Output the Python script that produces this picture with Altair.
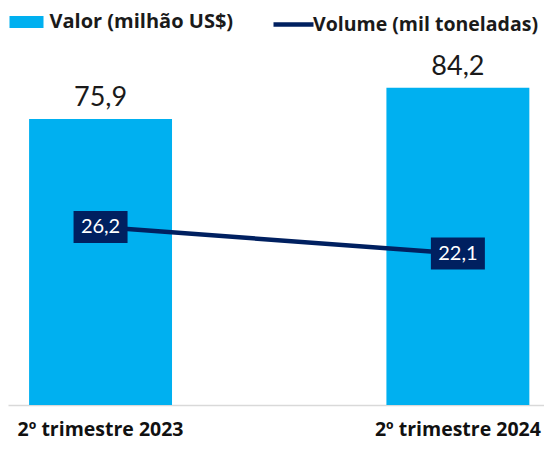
import altair as alt
import pandas as pd

categorias = ["2º trimestre 2023", "2º trimestre 2024"]
valor = [75.9, 84.2]
volume = [26.2, 22.1]
serie_valor = "Valor (milhão US$)"
serie_volume = "Volume (mil toneladas)"

df = pd.DataFrame({
    "cat": categorias,
    "valor": valor,
    "volume": volume,
})
df["valor_lbl"] = [f"{v:.1f}".replace(".", ",") for v in valor]
df["volume_lbl"] = [f"{v:.1f}".replace(".", ",") for v in volume]
df["s_valor"] = serie_valor
df["s_volume"] = serie_volume

FONT = "Lato"
BFONT = "Open Sans"
BLUE = "#00B0F0"
NAVY = "#002060"

x = alt.X("cat:N", sort=categorias, title=None,
          scale=alt.Scale(paddingInner=0.6, paddingOuter=0.05, align=0.59),
          axis=alt.Axis(labelAngle=0, labelFont=BFONT, labelFontWeight="bold",
                        labelFontSize=19.5, labelColor="#111111", ticks=False,
                        labelPadding=15, domainColor="#D9D9D9", domainWidth=1.5))

yv = alt.Y("valor:Q", axis=None, scale=alt.Scale(domain=[0, 94.77], nice=False, zero=False))
base = alt.Chart(df)

bars = base.mark_bar(color=BLUE).encode(
    x=x, y=yv,
    fill=alt.Fill("s_valor:N", scale=alt.Scale(range=[BLUE]),
                  legend=alt.Legend(title=None, orient="none", legendX=8.5, legendY=-36,
                                    symbolType="M-2,-0.7L2,-0.7L2,0.7L-2,0.7Z",
                                    symbolSize=289, symbolStrokeWidth=0,
                                    labelFont=BFONT, labelFontWeight="bold", labelFontSize=20,
                                    labelColor="#1a1a1a", labelOffset=13, padding=0,
                                    labelLimit=400)),
)
bar_text = base.mark_text(font=FONT, fontSize=27, color="#1a1a1a", baseline="alphabetic", dy=-13).encode(
    x=x, y=yv, text="valor_lbl:N")

yl = alt.Y("volume:Q", axis=None, scale=alt.Scale(domain=[-1.35, 53.92], nice=False, zero=False))
line = base.mark_line(strokeWidth=4.5).encode(
    x=x, y=yl,
    stroke=alt.Stroke("s_volume:N", scale=alt.Scale(range=[NAVY]),
                      legend=alt.Legend(title=None, orient="none", legendX=273, legendY=-36,
                                        symbolType="M-2,0L2,0", symbolSize=400, symbolStrokeWidth=4.5,
                                        labelFont=BFONT, labelFontWeight="bold", labelFontSize=19.5,
                                        labelColor="#1a1a1a", labelOffset=7, padding=0,
                                        labelLimit=400)),
)
boxes = base.mark_point(shape="M-1,-0.593L1,-0.593L1,0.593L-1,0.593Z", size=2916,
                        filled=True, color=NAVY, opacity=1).encode(x=x, y=yl)
line_text = base.mark_text(font=FONT, fontSize=20, color="white", baseline="middle").encode(
    x=x, y=yl, text="volume_lbl:N")

left = alt.layer(bars, bar_text)
right = alt.layer(line, boxes, line_text)

chart = alt.layer(left, right).resolve_scale(y="independent").properties(
    width=536, height=357,
    autosize=alt.AutoSizeParams(type="none"),
    padding={"left": 0, "top": 40, "right": 0, "bottom": 36},
).configure_view(strokeWidth=0, strokeOpacity=0)

chart.save("out.html", embed_options={"renderer": "svg", "actions": False})
